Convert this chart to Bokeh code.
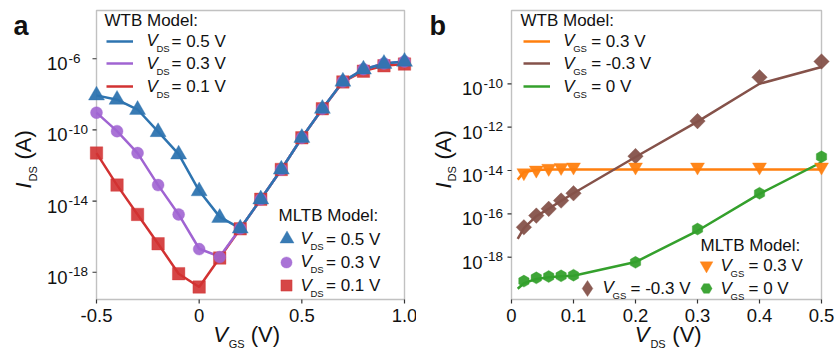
import math
from bokeh.plotting import figure
from bokeh.layouts import row
from bokeh.models import Range1d, Label, Legend, LegendItem, BoxAnnotation
from bokeh.core.properties import value
from bokeh.embed import file_html
from bokeh.resources import INLINE

# ---------------- data: panel a (I_DS vs V_GS) ----------------
vgs = [-0.5, -0.4, -0.3, -0.2, -0.1, 0.0, 0.1, 0.2, 0.3, 0.4, 0.5, 0.6, 0.7, 0.8, 0.9, 1.0]
# WTB model (lines)
wtb_vds05 = [8.7e-9, 5.0e-9, 1.4e-9, 8.0e-11, 4.4e-12, 3.8e-14, 1.3e-15, 2.9e-16,
             1.26e-14, 6.0e-13, 3.6e-11, 1.55e-9, 5.2e-8, 2.5e-7, 5.4e-7, 6.9e-7]
wtb_vds03 = [9.3e-10, 8.5e-11, 5.0e-12, 7.9e-14, 1.78e-15, 2.1e-17, 7.5e-18, 2.9e-16,
             1.26e-14, 6.0e-13, 3.6e-11, 1.55e-9, 5.2e-8, 2.5e-7, 5.4e-7, 6.9e-7]
wtb_vds01 = [5.0e-12, 7.9e-14, 1.78e-15, 4.0e-17, 8.3e-19, 1.5e-19, 6.5e-18, 2.8e-16,
             1.26e-14, 6.0e-13, 3.6e-11, 1.5e-9, 5.0e-8, 2.0e-7, 4.0e-7, 5.0e-7]
# MLTB model (markers)
mltb_vds05 = [8.7e-9, 5.0e-9, 1.35e-9, 7.6e-11, 4.2e-12, 3.6e-14, 1.15e-15, 2.9e-16,
              1.26e-14, 6.0e-13, 3.6e-11, 1.55e-9, 5.2e-8, 2.5e-7, 5.2e-7, 6.8e-7]
mltb_vds03 = [9.3e-10, 8.5e-11, 5.0e-12, 7.9e-14, 1.78e-15, 2.0e-17, 7.1e-18, 2.9e-16,
              1.26e-14, 6.0e-13, 3.6e-11, 1.55e-9, 5.2e-8, 2.6e-7, 5.4e-7, 7.0e-7]
mltb_vds01 = [5.0e-12, 7.9e-14, 1.78e-15, 4.0e-17, 8.3e-19, 1.48e-19, 6.3e-18, 2.75e-16,
              1.26e-14, 6.0e-13, 3.6e-11, 1.55e-9, 5.0e-8, 2.0e-7, 4.0e-7, 5.0e-7]

# ---------------- data: panel b (I_DS vs V_DS) ----------------
vds_line = [0.01, 0.02, 0.04, 0.06, 0.08, 0.1, 0.2, 0.3, 0.4, 0.5]
wtb_vgs_p03 = [3.8e-15, 8.5e-15, 1.05e-14, 1.1e-14, 1.1e-14, 1.1e-14, 1.1e-14, 1.1e-14, 1.1e-14, 1.1e-14]
wtb_vgs_m03 = [7.1e-18, 2.2e-17, 7.9e-17, 1.7e-16, 4.0e-16, 8.9e-16, 4.2e-14, 1.8e-12, 1.0e-10, 5.9e-10]
wtb_vgs_0 = [3.5e-20, 6.3e-20, 1.0e-19, 1.2e-19, 1.32e-19, 1.41e-19, 6.0e-19, 1.66e-17, 8.3e-16, 2.4e-14]
vds_pts = [0.02, 0.04, 0.06, 0.08, 0.1, 0.2, 0.3, 0.4, 0.5]
mltb_vgs_p03 = [7.9e-15, 1.05e-14, 1.26e-14, 1.38e-14, 1.45e-14, 1.45e-14, 1.45e-14, 1.45e-14, 1.45e-14]
mltb_vgs_m03 = [2.4e-17, 8.3e-17, 1.7e-16, 4.1e-16, 8.9e-16, 4.6e-14, 1.9e-12, 2.0e-10, 1.07e-9]
mltb_vgs_0 = [7.9e-20, 1.12e-19, 1.29e-19, 1.38e-19, 1.48e-19, 5.8e-19, 2.0e-17, 8.9e-16, 4.3e-14]

# ---------------- ticks ----------------
xticks_a = [-0.5, 0.0, 0.5, 1.0]
xtick_labels_a = ["-0.5", "0", "0.5", "1.0"]
xticks_b = [0.0, 0.1, 0.2, 0.3, 0.4, 0.5]
xtick_labels_b = ["0", "0.1", "0.2", "0.3", "0.4", "0.5"]
yticks_a = [1e-6, 1e-10, 1e-14, 1e-18]
ytick_exp_a = ["-6", "-10", "-14", "-18"]
yticks_b = [1e-10, 1e-12, 1e-14, 1e-16, 1e-18]
ytick_exp_b = ["-10", "-12", "-14", "-16", "-18"]

# ---------------- style / layout ----------------
FONT = "Liberation Sans"
TXT = "#111111"
FRAME = "#333333"
BLUE = "#2e74b0"
PURPLE = "#a064d2"
RED = "#d23232"
ORANGE = "#ff7f0e"
BROWN = "#85524a"
GREEN = "#34a02c"
H = 360
TOP, BOTTOM = 10, 299  # plot box top / bottom (pixels)


class Panel:
    def __init__(self, x0, width, left, right, xlim, ylim_log):
        self.x0 = x0
        self.left, self.right = left, right
        self.xlim, self.ylim_log = xlim, ylim_log
        ppx = (right - left) / (xlim[1] - xlim[0])
        ppy = (BOTTOM - TOP) / (ylim_log[1] - ylim_log[0])
        self.ppx, self.ppy = ppx, ppy
        xr = Range1d(xlim[0] - left / ppx, xlim[1] + (width - right) / ppx)
        yr = Range1d(10 ** (ylim_log[0] - (H - BOTTOM) / ppy), 10 ** (ylim_log[1] + TOP / ppy))
        p = figure(width=width, height=H, x_range=xr, y_range=yr, y_axis_type="log",
                   x_axis_location=None, y_axis_location=None,
                   output_backend="svg", toolbar_location=None,
                   min_border_left=0, min_border_right=0, min_border_top=0, min_border_bottom=0)
        p.xgrid.visible = False
        p.ygrid.visible = False
        p.outline_line_color = None
        p.background_fill_color = "white"
        p.border_fill_color = "white"
        # plot box
        p.add_layout(BoxAnnotation(left=xlim[0], right=xlim[1], bottom=10 ** ylim_log[0],
                                   top=10 ** ylim_log[1], fill_alpha=0, line_color=FRAME,
                                   line_width=1.4, level="underlay"))
        self.p = p

    def ticks(self, xticks, xlabels, yticks, yexps):
        p = self.p
        yb = 10 ** self.ylim_log[0]
        yb_out = 10 ** (self.ylim_log[0] - 4 / self.ppy)
        p.segment(x0=xticks, y0=[yb] * len(xticks), x1=xticks, y1=[yb_out] * len(xticks),
                  line_color=FRAME, line_width=1.2)
        xl = self.xlim[0]
        xl_out = xl - 4 / self.ppx
        p.segment(x0=[xl] * len(yticks), y0=yticks, x1=[xl_out] * len(yticks), y1=yticks,
                  line_color=FRAME, line_width=1.2)
        for t, s in zip(xticks, xlabels):
            p.add_layout(Label(x=t, x_units="data", y=H - 315, y_units="screen", text=s,
                               text_font=FONT, text_font_size="18.5px", text_color=TXT,
                               text_align="center", text_baseline="middle"))
        for t, e in zip(yticks, yexps):
            p.add_layout(Label(x=self.left - 49.5, x_units="screen", y=t, y_units="data", text="10",
                               text_font=FONT, text_font_size="18.5px", text_color=TXT,
                               text_baseline="middle", y_offset=-5))
            p.add_layout(Label(x=self.left - 28, x_units="screen", y=t, y_units="data", text=e,
                               text_font=FONT, text_font_size="13.5px", text_color=TXT,
                               text_baseline="middle", y_offset=0.5))

    def txt(self, x_abs, y_abs, text, size, style="normal", angle=0.0, baseline="middle"):
        self.p.add_layout(Label(x=x_abs - self.x0, y=H - y_abs, x_units="screen", y_units="screen",
                                text=text, text_font=FONT, text_font_size=f"{size}px",
                                text_font_style=style, text_color=TXT, text_align="left",
                                text_baseline=baseline, angle=angle))

    def sample(self, renderer, cx_abs, cy_abs, w, h):
        w, h = int(round(w)), int(round(h))
        self.p.add_layout(Legend(items=[LegendItem(label=value(""), renderers=[renderer])],
                                 location=(cx_abs - self.x0 - w / 2, H - cy_abs - h / 2),
                                 glyph_width=w, glyph_height=h, label_height=h, label_width=0,
                                 label_standoff=0, padding=0, margin=0, spacing=0,
                                 border_line_alpha=0, background_fill_alpha=0,
                                 label_text_font_size="1px"))

    def legend_row(self, x_v, y, sub, rest, gap):
        self.txt(x_v, y - 0.5, "V", 17, "italic")
        self.txt(x_v + 10, y + 7.5, sub, 9.5)
        self.txt(x_v + gap, y, rest, 17)

    def axis_labels(self, x_v, sub_x, ylab_x, letter_x, letter):
        # x label
        self.txt(x_v, 334, "V", 22, "italic")
        self.txt(x_v + 15.6, 343.5, sub_x, 11)
        self.txt(x_v + 37.5, 334, "(V)", 22)
        # y label (rotated)
        self.txt(ylab_x, 188, "I", 22, "italic", angle=math.pi / 2)
        self.txt(ylab_x + 9, 181, "DS", 11, angle=math.pi / 2)
        self.txt(ylab_x, 159, "(A)", 22, angle=math.pi / 2)
        self.txt(letter_x, 25, letter, 27, "bold", baseline="alphabetic")


# ================= panel a =================
A = Panel(0, 416, 96, 404, (-0.5, 1.0), (-19.53, -3.29))
pa = A.p
A.ticks(xticks_a, xtick_labels_a, yticks_a, ytick_exp_a)

la1 = pa.line(vgs, wtb_vds01, line_color=RED, line_width=2.5)
la3 = pa.line(vgs, wtb_vds03, line_color=PURPLE, line_width=2.5)
la5 = pa.line(vgs, wtb_vds05, line_color=BLUE, line_width=2.5)
ma1 = pa.scatter(vgs, mltb_vds01, marker="square", size=12.5, fill_color=RED, fill_alpha=0.9,
                 line_color=RED, line_alpha=0.35)
ma3 = pa.scatter(vgs, mltb_vds03, marker="circle", size=12, fill_color=PURPLE, fill_alpha=0.9,
                 line_color=PURPLE, line_alpha=0.35)
ma5 = pa.scatter(vgs, mltb_vds05, marker="triangle", size=16, fill_color=BLUE, fill_alpha=0.95,
                 line_color=BLUE, line_alpha=0.35)

A.txt(104, 20, "WTB Model:", 17)
for r, y, lab in ((la5, 40.5, "= 0.5 V"), (la3, 63, "= 0.3 V"), (la1, 86, "= 0.1 V")):
    A.sample(r, 119.5, y, 27, 20)
    A.legend_row(146, y, "DS", lab, 25)
A.txt(278, 215, "MLTB Model:", 17)
for r, y, lab, s in ((ma5, 238.5, "= 0.5 V", 14), (ma3, 261.7, "= 0.3 V", 11), (ma1, 285, "= 0.1 V", 11)):
    A.sample(r, 286, y, s / 0.4, s / 0.4)
    A.legend_row(300, y, "DS", lab, 25.5)
A.axis_labels(212.7, "GS", 23, 13, "a")

# ================= panel b =================
B = Panel(416, 420, 95, 405, (0.0, 0.5), (-19.95, -6.62))
pb = B.p
B.ticks(xticks_b, xtick_labels_b, yticks_b, ytick_exp_b)

lb_p = pb.line(vds_line, wtb_vgs_p03, line_color=ORANGE, line_width=2.5)
lb_m = pb.line(vds_line, wtb_vgs_m03, line_color=BROWN, line_width=2.5)
lb_0 = pb.line(vds_line, wtb_vgs_0, line_color=GREEN, line_width=2.5)
mb_m = pb.scatter(vds_pts, mltb_vgs_m03, marker="square", angle=math.pi / 4, size=11,
                  fill_color=BROWN, fill_alpha=0.95, line_color=BROWN, line_alpha=0.35)
mb_0 = pb.scatter(vds_pts, mltb_vgs_0, marker="hex", angle=math.pi / 2, size=12,
                  fill_color=GREEN, fill_alpha=0.95, line_color=GREEN, line_alpha=0.35)
mb_p = pb.scatter(vds_pts, mltb_vgs_p03, marker="inverted_triangle", size=14,
                  fill_color=ORANGE, fill_alpha=0.95, line_color=ORANGE, line_alpha=0.35)
# zero-size twin of the diamond series, used only as the legend key
# (legend keys ignore marker rotation, so the key uses the diamond marker)
key_m = pb.scatter(vds_pts, mltb_vgs_m03, marker="diamond", size=0,
                   fill_color=BROWN, fill_alpha=0.95, line_color=BROWN, line_alpha=0.35)

B.txt(520, 20, "WTB Model:", 17)
for r, y, lab in ((lb_p, 40.5, "= 0.3 V"), (lb_m, 63, "= -0.3 V"), (lb_0, 86, "= 0 V")):
    B.sample(r, 536.3, y, 27, 20)
    B.legend_row(562.7, y, "GS", lab, 28)
B.txt(700, 245, "MLTB Model:", 17)
B.sample(mb_p, 706, 265, 13 / 0.4, 13 / 0.4)
B.legend_row(720, 265, "GS", "= 0.3 V", 28)
B.sample(mb_0, 706, 288, 11 / 0.4, 11 / 0.4)
B.legend_row(720, 288, "GS", "= 0 V", 28)
B.sample(key_m, 587, 287.5, 16 / 0.4, 16 / 0.4)
B.legend_row(602, 287.5, "GS", "= -0.3 V", 28)
B.axis_labels(634.3, "DS", 442.7, 429, "b")

layout = row(pa, pb)
open("out.html", "w").write(file_html(layout, INLINE))
